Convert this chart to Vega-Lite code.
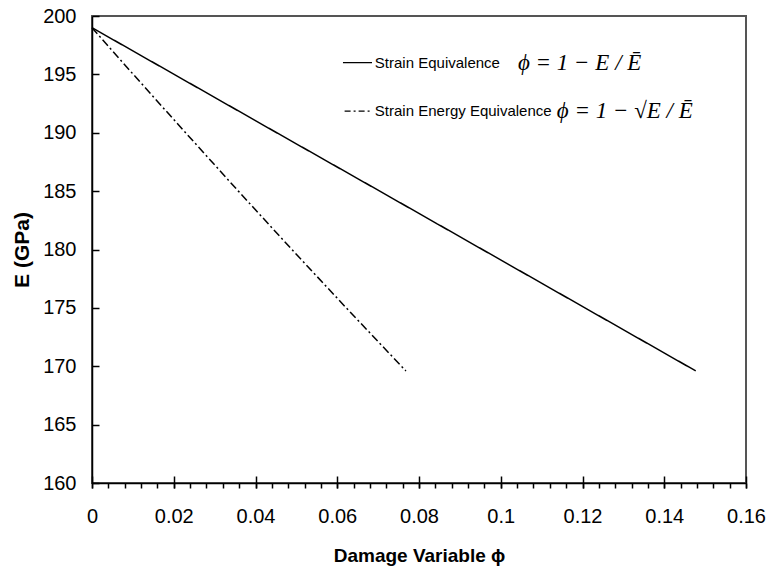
{
  "$schema": "https://vega.github.io/schema/vega-lite/v6.json",
  "width": 654,
  "height": 467,
  "autosize": {"type": "none"},
  "padding": {"left": 92, "top": 16, "right": 25, "bottom": 89},
  "background": "white",
  "config": {
    "view": {"stroke": "#555555", "strokeWidth": 2},
    "axis": {"domainColor": "black", "domainWidth": 1.5, "ticks": true, "tickColor": "black", "tickWidth": 1.5, "tickOpacity": 1, "grid": false, "labelFont": "Liberation Sans", "labelColor": "black", "titleFont": "Liberation Sans", "titleColor": "black", "titleFontWeight": "bold"}
  },
  "datasets": {
    "lines": [
      {"series": "A", "phi": 0, "E": 199},
      {"series": "A", "phi": 0.0201, "E": 195},
      {"series": "A", "phi": 0.0452, "E": 190},
      {"series": "A", "phi": 0.0704, "E": 185},
      {"series": "A", "phi": 0.0955, "E": 180},
      {"series": "A", "phi": 0.1206, "E": 175},
      {"series": "A", "phi": 0.1457, "E": 170},
      {"series": "A", "phi": 0.1477, "E": 169.6},
      {"series": "B", "phi": 0, "E": 199},
      {"series": "B", "phi": 0.0101, "E": 195},
      {"series": "B", "phi": 0.0229, "E": 190},
      {"series": "B", "phi": 0.0358, "E": 185},
      {"series": "B", "phi": 0.0489, "E": 180},
      {"series": "B", "phi": 0.0622, "E": 175},
      {"series": "B", "phi": 0.0757, "E": 170},
      {"series": "B", "phi": 0.0768, "E": 169.6}
    ],
    "legend": [
      {"series": "A", "x1": 0.0614, "x2": 0.0685, "y": 196.0, "tx": 0.0692, "label": "Strain Equivalence", "fx": 0.1042, "formula": "ϕ  =  1 − E / Ē"},
      {"series": "B", "x1": 0.0618, "x2": 0.0684, "y": 191.86, "tx": 0.0692, "label": "Strain Energy Equivalence", "fx": 0.1137, "formula": "ϕ  =  1 − √E / Ē"}
    ]
  },
  "layer": [
    {
      "data": {"name": "lines"},
      "mark": {"type": "line", "color": "black", "strokeWidth": 1.5},
      "encoding": {
        "x": {"field": "phi", "type": "quantitative", "scale": {"domain": [0, 0.16], "nice": false, "zero": false},
          "axis": {"orient": "bottom", "values": [0, 0.02, 0.04, 0.06, 0.08, 0.1, 0.12, 0.14, 0.16], "format": "~g", "tickSize": 5, "labelPadding": 18, "labelFontSize": 20, "labelFlush": false, "labelOverlap": false,
            "title": "Damage Variable  ϕ", "titleFontSize": 19, "titlePadding": 20}},
        "y": {"field": "E", "type": "quantitative", "scale": {"domain": [160, 200], "nice": false, "zero": false},
          "axis": {"orient": "left", "values": [160, 165, 170, 175, 180, 185, 190, 195, 200], "tickSize": 0, "labelPadding": 16, "labelFontSize": 20, "labelFlush": false, "labelOverlap": false,
            "title": "E (GPa)", "titleFontSize": 21, "titlePadding": 10}},
        "strokeDash": {"field": "series", "type": "nominal", "scale": {"domain": ["A", "B"], "range": [[1, 0], [8, 3, 2, 3]]}, "legend": null},
        "detail": {"field": "series"}
      }
    },
    {
      "data": {"name": "lines"},
      "mark": {"type": "point", "opacity": 0},
      "encoding": {
        "x": {"field": "phi", "type": "quantitative",
          "axis": {"orient": "bottom", "values": [0, 0.004, 0.008, 0.012, 0.016, 0.02, 0.024, 0.028, 0.032, 0.036, 0.04, 0.044, 0.048, 0.052, 0.056, 0.06, 0.064, 0.068, 0.072, 0.076, 0.08, 0.084, 0.088, 0.092, 0.096, 0.1, 0.104, 0.108, 0.112, 0.116, 0.12, 0.124, 0.128, 0.132, 0.136, 0.14, 0.144, 0.148, 0.152, 0.156, 0.16], "tickSize": 5, "labels": false, "domain": false, "title": null}},
        "y": {"field": "E", "type": "quantitative",
          "axis": {"orient": "right", "offset": -654, "values": [160, 165, 170, 175, 180, 185, 190, 195, 200], "tickSize": 7, "labels": false, "domain": false, "title": null}}
      }
    },
    {
      "data": {"name": "lines"},
      "mark": {"type": "point", "opacity": 0},
      "encoding": {
        "x": {"field": "phi", "type": "quantitative",
          "axis": {"orient": "top", "offset": -467, "values": [0, 0.02, 0.04, 0.06, 0.08, 0.1, 0.12, 0.14, 0.16], "tickSize": 7, "labels": false, "domain": false, "title": null}},
        "y": {"field": "E", "type": "quantitative", "axis": null}
      }
    },
    {
      "data": {"name": "legend"},
      "mark": {"type": "rule", "color": "black", "strokeWidth": 1.3},
      "encoding": {
        "x": {"field": "x1", "type": "quantitative", "axis": null},
        "x2": {"field": "x2"},
        "y": {"field": "y", "type": "quantitative", "axis": null},
        "strokeDash": {"field": "series", "type": "nominal", "scale": {"domain": ["A", "B"], "range": [[1, 0], [6, 3, 2, 3]]}, "legend": null}
      }
    },
    {
      "data": {"name": "legend"},
      "mark": {"type": "text", "align": "left", "baseline": "middle", "font": "Liberation Sans", "fontSize": 15, "color": "black"},
      "encoding": {
        "x": {"field": "tx", "type": "quantitative", "axis": null},
        "y": {"field": "y", "type": "quantitative", "axis": null},
        "text": {"field": "label"}
      }
    },
    {
      "data": {"name": "legend"},
      "mark": {"type": "text", "align": "left", "baseline": "middle", "font": "Liberation Serif", "fontStyle": "italic", "fontSize": 23, "color": "black"},
      "encoding": {
        "x": {"field": "fx", "type": "quantitative", "axis": null},
        "y": {"field": "y", "type": "quantitative", "axis": null},
        "text": {"field": "formula"}
      }
    }
  ],
  "resolve": {"axis": {"x": "independent", "y": "independent"}, "scale": {"strokeDash": "independent"}}
}
